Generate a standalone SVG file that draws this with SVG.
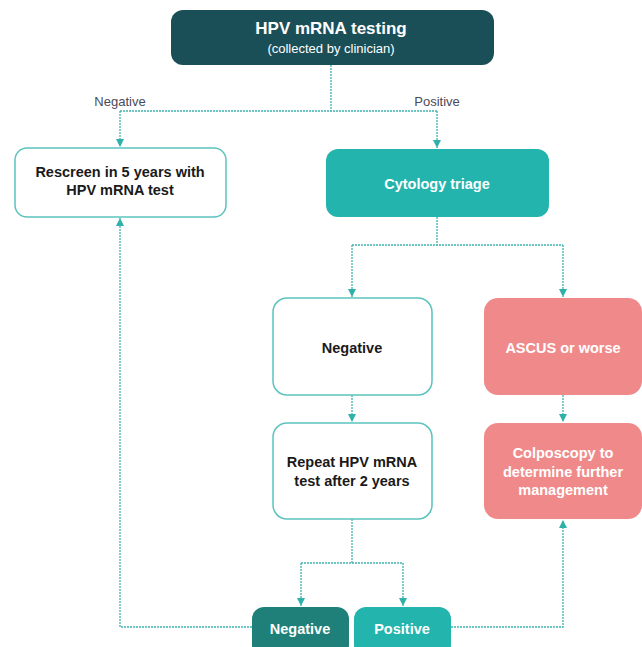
<svg xmlns="http://www.w3.org/2000/svg" width="642" height="647" viewBox="0 0 642 647">
<style>
text{font-family:"Liberation Sans Narrow","Liberation Sans",Arial,sans-serif;text-anchor:middle;font-weight:bold}
.w{fill:#ffffff}
.k{fill:#1a1a1a;font-size:14.5px}
.lbl{font-weight:normal;fill:#4a4a5a;font-size:13px}
.outline{fill:#ffffff;stroke:#5cc3bf;stroke-width:1.5}
.conn{fill:none;stroke:#3fb3ad;stroke-width:1.3;stroke-dasharray:2 1}
</style>
<defs>
<marker id="ah" markerWidth="8" markerHeight="8" refX="8" refY="4" orient="auto" markerUnits="userSpaceOnUse" viewBox="0 0 8 8">
<path d="M0,0 L8,4 L0,8 Z" fill="#2fb1aa"/>
</marker>
</defs>
<rect width="642" height="647" fill="#ffffff"/>
<g id="connectors">
<path class="conn" d="M331,65 V111"/>
<path class="conn" d="M120,111 H437"/>
<path class="conn" d="M120,111 V147" marker-end="url(#ah)"/>
<path class="conn" d="M437,111 V148" marker-end="url(#ah)"/>
<path class="conn" d="M437,217 V245"/>
<path class="conn" d="M352,245 H563"/>
<path class="conn" d="M352,245 V297" marker-end="url(#ah)"/>
<path class="conn" d="M563,245 V297" marker-end="url(#ah)"/>
<path class="conn" d="M352,395 V422" marker-end="url(#ah)"/>
<path class="conn" d="M563,395 V422" marker-end="url(#ah)"/>
<path class="conn" d="M352,519 V563"/>
<path class="conn" d="M301,563 H403"/>
<path class="conn" d="M301,563 V606" marker-end="url(#ah)"/>
<path class="conn" d="M403,563 V606" marker-end="url(#ah)"/>
<path class="conn" d="M252,627 H120 V218" marker-end="url(#ah)"/>
<path class="conn" d="M451,627 H563 V520" marker-end="url(#ah)"/>
</g>
<g id="label-negative"><text class="lbl" x="120" y="106">Negative</text></g>
<g id="label-positive"><text class="lbl" x="437" y="106">Positive</text></g>
<g id="hpv-test">
<rect x="171" y="10" width="323" height="55" rx="12" fill="#1b4f58"/>
<text class="w" x="331" y="34" font-size="17">HPV mRNA testing</text>
<text class="w" x="331" y="53" font-size="13" style="font-weight:normal">(collected by clinician)</text>
</g>
<g id="rescreen">
<rect class="outline" x="15" y="148" width="211" height="69" rx="12"/>
<text class="k" x="120" y="177">Rescreen in 5 years with</text>
<text class="k" x="120" y="195">HPV mRNA test</text>
</g>
<g id="cytology">
<rect x="326" y="149" width="223" height="68" rx="12" fill="#22b4ad"/>
<text class="w" x="437" y="189" font-size="14.5">Cytology triage</text>
</g>
<g id="cyto-negative">
<rect class="outline" x="273" y="298" width="159" height="97" rx="14"/>
<text class="k" x="352" y="353">Negative</text>
</g>
<g id="ascus">
<rect x="484" y="298" width="158" height="97" rx="14" fill="#f08a8a"/>
<text class="w" x="563" y="353" font-size="14.5">ASCUS or worse</text>
</g>
<g id="repeat">
<rect class="outline" x="273" y="423" width="159" height="96" rx="14"/>
<text class="k" x="352" y="467">Repeat HPV mRNA</text>
<text class="k" x="352" y="486">test after 2 years</text>
</g>
<g id="colposcopy">
<rect x="484" y="423" width="158" height="96" rx="14" fill="#f08a8a"/>
<text class="w" x="563" y="458" font-size="14.5">Colposcopy to</text>
<text class="w" x="563" y="477" font-size="14.5">determine further</text>
<text class="w" x="563" y="495" font-size="14.5">management</text>
</g>
<g id="final-negative">
<rect x="252" y="607" width="97" height="50" rx="12" fill="#1f8079"/>
<text class="w" x="300" y="634" font-size="14.5">Negative</text>
</g>
<g id="final-positive">
<rect x="354" y="607" width="97" height="50" rx="12" fill="#22b4ad"/>
<text class="w" x="402" y="634" font-size="14.5">Positive</text>
</g>
</svg>
